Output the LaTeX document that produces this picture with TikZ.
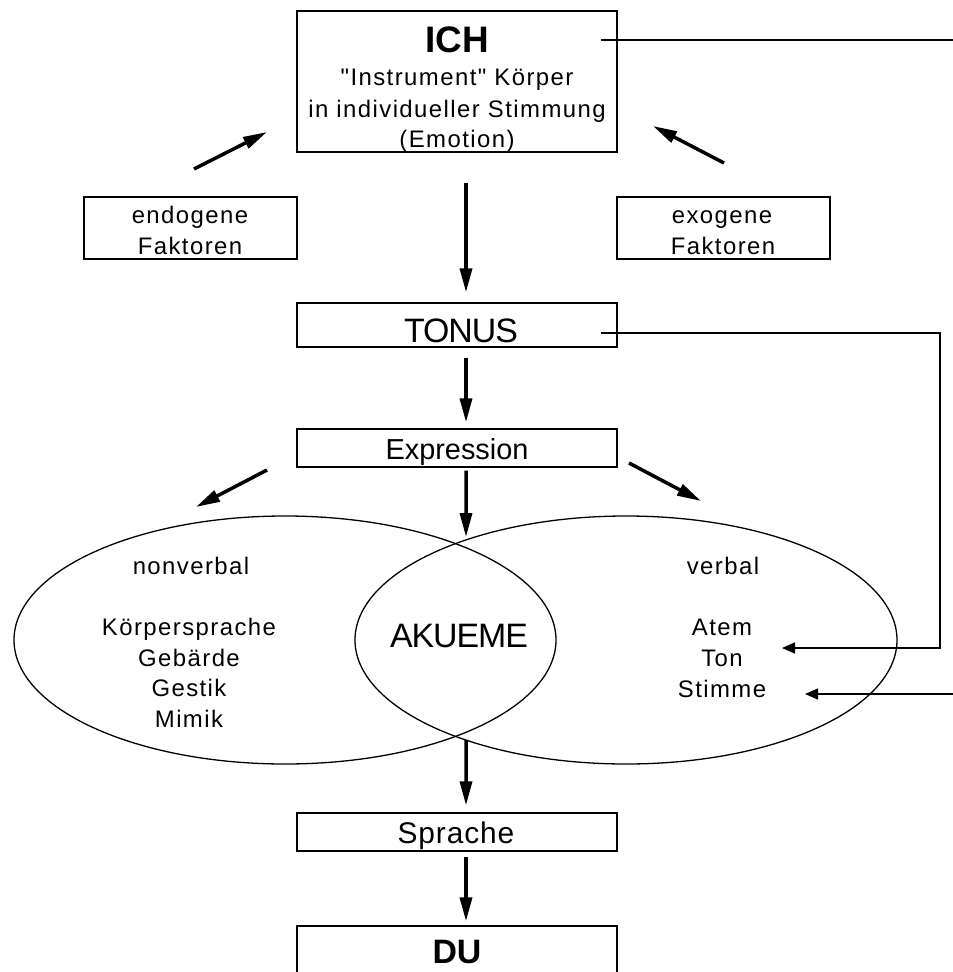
\documentclass[tikz,border=0pt]{standalone}
\usepackage{fontspec}
\setmainfont{Liberation Sans}
\newfontfamily\spacedfont[LetterSpace=6]{Liberation Sans}
\newfontfamily\tightfont[LetterSpace=-3]{Liberation Sans}
\newfontfamily\looseonefont[LetterSpace=3]{Liberation Sans}
\usetikzlibrary{arrows.meta,shapes.geometric}
\begin{document}
\begin{tikzpicture}[x=1bp,y=-1bp,
  box/.style={draw,line width=1.3bp,inner sep=0pt,minimum width=320bp},
  sidebox/.style={draw,line width=1.3bp,inner sep=0pt,minimum width=213bp,minimum height=62bp},
  bubble/.style={draw,ellipse,line width=1.3bp,inner sep=0pt,minimum width=542bp,minimum height=248bp},
  small/.style={inner sep=0pt,anchor=base,font=\spacedfont\fontsize{24}{28}\selectfont},
  medium/.style={inner sep=0pt,anchor=base,font=\fontsize{29}{34}\selectfont},
  large/.style={inner sep=0pt,anchor=base,font=\tightfont\fontsize{34}{40}\selectfont},
  heavy/.style={inner sep=0pt,anchor=base,font=\bfseries\fontsize{37}{42}\selectfont},
  bigarrow/.style={line width=3.5bp,-{Triangle[length=24bp,width=12bp]}},
  smallarrow/.style={line width=1.3bp,-{Triangle[length=13bp,width=11bp]}},
  wire/.style={line width=1.3bp}]
\clip (0,0) rectangle (953,972);

% boxes
\node[box,minimum height=141bp] (ICH) at (457,81.5) {};
\node[sidebox] (endo) at (190.5,228) {};
\node[sidebox] (exo) at (723.5,228) {};
\node[box,minimum height=44bp] (TONUS) at (457,325) {};
\node[box,minimum height=38bp] (EXPR) at (457,448) {};
\node[box,minimum height=38bp] (SPR) at (457,832) {};
\node[box,minimum height=100bp] (DU) at (457,976) {};
\node[bubble] (NV) at (285,640) {};
\node[bubble] (VB) at (626,640) {};

% texts
\node[heavy] (tich) at (457,52) {ICH};
\node[small] (tich1) at (457,85) {"Instrument" Körper};
\node[small] (tich2) at (457,117) {in individueller Stimmung};
\node[small] (tich3) at (457,147) {(Emotion)};
\node[small] (tendo1) at (190,223) {endogene};
\node[small] (tendo2) at (190,254) {Faktoren};
\node[small] (texo1) at (722,223) {exogene};
\node[small] (texo2) at (723,254) {Faktoren};
\node[large] (ttonus) at (461,342) {TONUS};
\node[medium] (texpr) at (457,459) {Expression};
\node[small] (tnv) at (191,574) {nonverbal};
\node[small] (tnv1) at (189,635) {Körpersprache};
\node[small] (tnv2) at (189,666) {Gebärde};
\node[small] (tnv3) at (189,696) {Gestik};
\node[small] (tnv4) at (189,727) {Mimik};
\node[small] (tvb) at (723,574) {verbal};
\node[small] (tvb1) at (722,635) {Atem};
\node[small] (tvb2) at (722,666) {Ton};
\node[small] (tvb3) at (722,697) {Stimme};
\node[large] (tak) at (459,647) {AKUEME};
\node[medium,font=\looseonefont\fontsize{30}{34}\selectfont] (tspr) at (456,843) {Sprache};
\node[heavy,font=\bfseries\fontsize{34}{40}\selectfont] (tdu) at (457,963) {DU};

% coordinates for free arrow ends
\coordinate (e1) at (194,169);
\coordinate (e2) at (267,132);
\coordinate (x1) at (724,163);
\coordinate (x2) at (653,126);
\coordinate (l1) at (267,470);
\coordinate (l2) at (196,507);
\coordinate (q1) at (629,463);
\coordinate (q2) at (701,501);
\coordinate (meetTop) at (466,537);
\coordinate (meetBot) at (466,740);
\coordinate (edgeA) at (953,40);
\coordinate (cornerB) at (940,333);
\coordinate (atemTip) at (782,648);
\coordinate (edgeC) at (953,694);
\coordinate (stimmeTip) at (805,694);

% thick arrows
\draw[bigarrow] (e1) -- (e2);
\draw[bigarrow] (x1) -- (x2);
\draw[bigarrow,shorten <=30bp,shorten >=10bp] ([xshift=9bp]ICH.south) -- ([xshift=9bp]TONUS.north);
\draw[bigarrow,shorten <=10bp,shorten >=6bp] ([xshift=9bp]TONUS.south) -- ([xshift=9bp]EXPR.north);
\draw[bigarrow,shorten <=3bp] ([xshift=9bp]EXPR.south) -- (meetTop);
\draw[bigarrow] (l1) -- (l2);
\draw[bigarrow] (q1) -- (q2);
\draw[bigarrow,shorten >=7bp] (meetBot) -- ([xshift=9bp]SPR.north);
\draw[bigarrow,shorten <=5bp,shorten >=4bp] ([xshift=9bp]SPR.south) -- ([xshift=9bp]DU.north);

% thin lines
\draw[wire] ([xshift=-17bp]ICH.east |- edgeA) -- (edgeA);
\draw[smallarrow] ([xshift=-17bp]TONUS.east |- cornerB) -- (cornerB) |- (atemTip);
\draw[smallarrow] (edgeC) -- (stimmeTip);
\end{tikzpicture}
\end{document}
